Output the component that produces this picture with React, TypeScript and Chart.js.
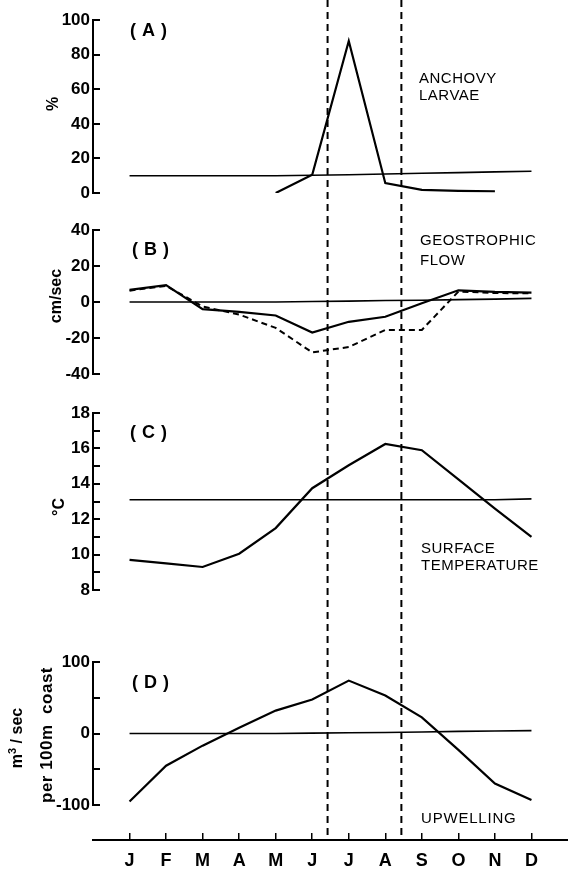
import React, { useEffect, useRef } from 'react';
import { Chart, registerables } from 'chart.js';

Chart.register(...registerables);

// ---------- data ----------
const months = ['J', 'F', 'M', 'A', 'M', 'J', 'J', 'A', 'S', 'O', 'N', 'D'];

// (A) anchovy larvae, %
const larvaeRef = [10, 10, 10, 10, 10, 10.3, 10.6, 11, 11.4, 11.8, 12.2, 12.6];
const larvae = [null, null, null, null, 0, 10.5, 88, 5.7, 1.8, 1.2, 1.0, null];

// (B) geostrophic flow, cm/sec
const flowRef = [0, 0, 0, 0, 0, 0.3, 0.5, 0.8, 1, 1.3, 1.6, 2];
const flowSolid = [6.7, 9.4, -4, -5.5, -7.5, -17, -11, -8.2, -0.7, 6.5, 5.6, 5.2];
const flowDashed = [6.3, 9, -2.5, -7, -14.4, -28, -25, -15.5, -15.5, 5.8, 5, 4.8];

// (C) surface temperature, °C
const tempRef = [13.1, 13.1, 13.1, 13.1, 13.1, 13.1, 13.1, 13.1, 13.1, 13.1, 13.1, 13.15];
const temp = [9.7, 9.5, 9.3, 10.05, 11.5, 13.75, 15.05, 16.25, 15.9, 14.25, 12.6, 11.0];

// (D) upwelling, m3/sec per 100m coast
const upwellRef = [0, 0, 0, 0, 0, 0.5, 1, 1.5, 2, 3, 3.5, 4];
const upwell = [-95, -45, -17, 8, 32, 47.5, 74, 53, 22.6, -23, -70, -93];

// dashed period boundaries (month index)
const periodBounds = [5.42, 7.44];

// ---------- layout ----------
const W = 568;
const H = 869;
const AXIS_X = 93;
const FONT = '"Liberation Sans", Arial, Helvetica, sans-serif';

const toXY = (arr: (number | null)[]) => arr.map((v, i) => ({ x: i, y: v }));

function lineDs(arr: (number | null)[], width: number, dash: number[] = []) {
  return {
    data: toXY(arr),
    borderColor: '#000',
    borderWidth: width,
    borderDash: dash,
    pointRadius: 0,
    tension: 0,
    fill: false,
    spanGaps: false,
  };
}

function panelConfig(
  datasets: any[],
  yMin: number,
  yMax: number,
  step: number,
  labelFn: (v: number) => string,
  top: number,
  bottom: number
): any {
  return {
    type: 'line',
    data: { datasets },
    options: {
      animation: false,
      responsive: false,
      events: [],
      layout: { padding: { top, bottom: H - bottom, left: 0, right: 0 } },
      plugins: { legend: { display: false }, tooltip: { enabled: false } },
      scales: {
        x: { type: 'linear', min: -1, max: 12, display: false },
        y: {
          type: 'linear',
          min: yMin,
          max: yMax,
          position: 'left',
          afterFit: (s: any) => {
            s.width = AXIS_X;
          },
          border: { display: true, color: '#000', width: 2 },
          grid: {
            display: true,
            drawOnChartArea: false,
            drawTicks: true,
            tickLength: -7,
            color: '#000',
            lineWidth: 2,
          },
          ticks: {
            stepSize: step,
            autoSkip: false,
            padding: 10,
            color: '#000',
            font: { family: FONT, size: 17, weight: 'bold' },
            callback: (v: number) => labelFn(v),
          },
        },
      },
    },
  };
}

const vlinePlugin = {
  id: 'vlines',
  afterDraw(chart: any) {
    const { ctx, chartArea } = chart;
    const x = chart.scales.x;
    ctx.save();
    ctx.strokeStyle = '#000';
    ctx.lineWidth = 2;
    ctx.setLineDash([7, 5]);
    periodBounds.forEach((v) => {
      const px = x.getPixelForValue(v);
      ctx.beginPath();
      ctx.moveTo(px, 0);
      ctx.lineTo(px, chartArea.bottom);
      ctx.stroke();
    });
    ctx.restore();
  },
};

function xAxisConfig(): any {
  return {
    type: 'line',
    data: { datasets: [] },
    plugins: [vlinePlugin],
    options: {
      animation: false,
      responsive: false,
      events: [],
      layout: { padding: { top: 833, bottom: 0, left: AXIS_X, right: 0 } },
      plugins: { legend: { display: false }, tooltip: { enabled: false } },
      scales: {
        y: { display: false, min: 0, max: 1 },
        x: {
          type: 'linear',
          min: -1,
          max: 12,
          position: 'bottom',
          afterFit: (s: any) => {
            s.height = 29;
          },
          afterBuildTicks: (s: any) => {
            s.ticks = s.ticks.filter((t: any) => t.value >= 0 && t.value <= 11);
          },
          border: { display: true, color: '#000', width: 2 },
          grid: {
            display: true,
            drawOnChartArea: true,
            drawTicks: false,
            color: '#000',
            lineWidth: 1.5,
          },
          ticks: {
            stepSize: 1,
            autoSkip: false,
            maxRotation: 0,
            padding: 10,
            color: '#000',
            font: { family: FONT, size: 18, weight: 'bold' },
            callback: (v: number) => months[v] ?? '',
          },
        },
      },
    },
  };
}

const canvasStyle: React.CSSProperties = {
  position: 'absolute',
  left: 0,
  top: 0,
  width: W,
  height: H,
};

function Txt(props: {
  x: number;
  cy: number;
  size: number;
  bold?: boolean;
  spacing?: number;
  children: React.ReactNode;
}) {
  const { x, cy, size, bold, spacing, children } = props;
  return (
    <div
      style={{
        position: 'absolute',
        left: x,
        top: cy - 0.49 * size,
        fontFamily: FONT,
        fontSize: size,
        lineHeight: `${size}px`,
        fontWeight: bold ? 'bold' : 'normal',
        letterSpacing: spacing ?? 0,
        whiteSpace: 'pre',
        color: '#000',
      }}
    >
      {children}
    </div>
  );
}

function VTxt(props: {
  cx: number;
  cy: number;
  size: number;
  spacing?: number;
  children: React.ReactNode;
}) {
  const { cx, cy, size, spacing, children } = props;
  return (
    <div
      style={{
        position: 'absolute',
        left: cx,
        top: cy,
        transform: 'translate(-50%, -50%) rotate(-90deg)',
        fontFamily: FONT,
        fontSize: size,
        lineHeight: `${size}px`,
        fontWeight: 'bold',
        letterSpacing: spacing ?? 0,
        whiteSpace: 'pre',
        color: '#000',
      }}
    >
      {children}
    </div>
  );
}

export default function App() {
  const refA = useRef<HTMLCanvasElement>(null);
  const refB = useRef<HTMLCanvasElement>(null);
  const refC = useRef<HTMLCanvasElement>(null);
  const refD = useRef<HTMLCanvasElement>(null);
  const refX = useRef<HTMLCanvasElement>(null);

  useEffect(() => {
    document.body.style.margin = '0';
    const charts: Chart[] = [];
    charts.push(
      new Chart(
        refA.current!,
        panelConfig(
          [lineDs(larvaeRef, 1.6), lineDs(larvae, 2.2)],
          0,
          100,
          20,
          (v) => String(v),
          12,
          193
        )
      )
    );
    charts.push(
      new Chart(
        refB.current!,
        panelConfig(
          [lineDs(flowRef, 1.6), lineDs(flowSolid, 2.2), lineDs(flowDashed, 2, [6, 4])],
          -40,
          40,
          20,
          (v) => (v < 0 ? '-' + Math.abs(v) : String(v)),
          230,
          374
        )
      )
    );
    charts.push(
      new Chart(
        refC.current!,
        panelConfig(
          [lineDs(tempRef, 1.6), lineDs(temp, 2.2)],
          8,
          18,
          1,
          (v) => (v % 2 === 0 ? String(v) : ''),
          413,
          590
        )
      )
    );
    charts.push(
      new Chart(
        refD.current!,
        panelConfig(
          [lineDs(upwellRef, 1.6), lineDs(upwell, 2.2)],
          -100,
          100,
          50,
          (v) => (v % 100 === 0 ? String(v) : ''),
          662,
          805
        )
      )
    );
    charts.push(new Chart(refX.current!, xAxisConfig()));
    return () => charts.forEach((c) => c.destroy());
  }, []);

  return (
    <div
      style={{
        position: 'fixed',
        left: 0,
        top: 0,
        width: W,
        height: H,
        background: '#fff',
        overflow: 'hidden',
      }}
    >
      <canvas ref={refA} width={W} height={H} style={canvasStyle} />
      <canvas ref={refB} width={W} height={H} style={canvasStyle} />
      <canvas ref={refC} width={W} height={H} style={canvasStyle} />
      <canvas ref={refD} width={W} height={H} style={canvasStyle} />
      <canvas ref={refX} width={W} height={H} style={canvasStyle} />

      <Txt x={130} cy={30} size={18} bold spacing={6}>(A)</Txt>
      <Txt x={132} cy={249} size={18} bold spacing={6}>(B)</Txt>
      <Txt x={130} cy={432} size={18} bold spacing={6}>(C)</Txt>
      <Txt x={132} cy={682} size={18} bold spacing={6}>(D)</Txt>

      <Txt x={419} cy={77} size={15} spacing={0.5}>ANCHOVY</Txt>
      <Txt x={419} cy={94} size={15} spacing={0.5}>LARVAE</Txt>
      <Txt x={420} cy={239} size={15} spacing={0.5}>GEOSTROPHIC</Txt>
      <Txt x={420} cy={259} size={15} spacing={0.5}>FLOW</Txt>
      <Txt x={421} cy={547} size={15} spacing={0.5}>SURFACE</Txt>
      <Txt x={421} cy={564} size={15} spacing={0.5}>TEMPERATURE</Txt>
      <Txt x={421} cy={817} size={15} spacing={0.8}>UPWELLING</Txt>

      <VTxt cx={53} cy={104} size={16}>%</VTxt>
      <VTxt cx={56} cy={296} size={16}>cm/sec</VTxt>
      <VTxt cx={59} cy={507} size={16}>°C</VTxt>
      <VTxt cx={17} cy={738} size={16}>
        {'m'}
        <sup style={{ fontSize: 11, lineHeight: 0 }}>3</sup>
        {' / sec'}
      </VTxt>
      <VTxt cx={46} cy={735} size={17} spacing={0.5}>per 100m  coast</VTxt>
    </div>
  );
}
